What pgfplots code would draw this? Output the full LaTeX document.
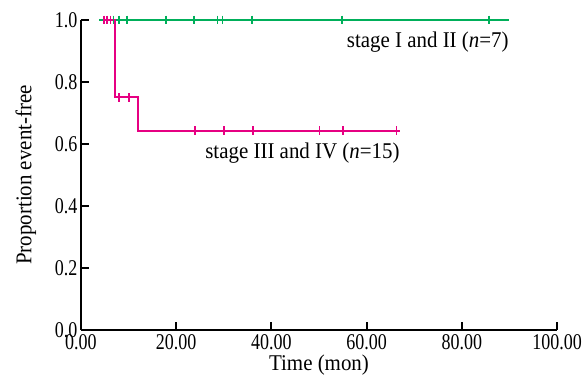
\documentclass[border=0pt]{standalone}
\usepackage{fontspec}
\setmainfont{Liberation Serif}[FakeStretch=0.93]
\newfontfamily\tickfont{Liberation Serif}[FakeStretch=0.8]
\usepackage{pgfplots}
\pgfplotsset{compat=1.18}
\definecolor{kmgreen}{RGB}{0,175,90}
\definecolor{kmmag}{RGB}{230,0,130}
\begin{document}
\fontsize{13.5}{15}\selectfont
\begin{tikzpicture}
\begin{axis}[name=ax, scale only axis, width=285.6pt, height=186pt,
  xmin=0, xmax=100, ymin=0, ymax=1,
  axis lines*=left,
  axis line style={line width=1.1pt, black},
  xtick={0,20,40,60,80,100}, ytick={0,0.2,0.4,0.6,0.8,1.0},
  tick align=inside, major tick length=4.8pt,
  tick style={line width=1.1pt, black},
  /pgf/number format/assume math mode=true,
  tick label style={font=\fontsize{13.5}{15}\tickfont},
  label style={font=\fontsize{13.5}{15}\selectfont},
  xticklabel style={/pgf/number format/fixed, /pgf/number format/fixed zerofill, /pgf/number format/precision=2, inner sep=1pt, yshift=-1.5pt},
  yticklabel style={/pgf/number format/fixed, /pgf/number format/fixed zerofill, /pgf/number format/precision=1, inner sep=2pt},
  xtick pos=bottom, ytick pos=left,
  xlabel={Time (mon)}, ylabel={Proportion event-free},
  xlabel style={inner sep=0pt, yshift=-2pt}, ylabel style={inner sep=0pt, yshift=9pt},
  clip=false,
  every axis plot/.append style={line width=1.2pt},
]
% stage I and II
\addplot[kmgreen, mark=none] coordinates {(3.85,1) (90,1)};
\addplot[kmgreen, only marks, mark=|, mark size=2.6pt, mark options={line width=1pt}] coordinates {
  (6.8,1) (8.0,1) (9.7,1) (17.9,1) (23.8,1) (28.7,1) (29.7,1) (35.9,1) (54.8,1) (85.7,1)};
% stage III and IV
\addplot[kmmag, mark=none] coordinates {(4.7,1) (7.1,1) (7.1,0.75) (12.0,0.75) (12.0,0.643) (67.0,0.643)};
\addplot[kmmag, only marks, mark=|, mark size=2.6pt, mark options={line width=1pt}] coordinates {
  (4.9,1) (5.5,1) (6.2,1) (8.0,0.75) (10.1,0.75)
  (23.9,0.643) (30.1,0.643) (36.1,0.643) (50.1,0.643) (55.1,0.643) (66.3,0.643)};
\node[anchor=east, inner sep=0pt] at (axis cs:89.9,0.93) {stage I and II (\textit{n}=7)};
\node[anchor=east, inner sep=0pt] at (axis cs:67.0,0.571) {stage III and IV (\textit{n}=15)};
\end{axis}
\pgfresetboundingbox
\path ([shift={(-48.6pt,-28.8pt)}]ax.south west) rectangle ([shift={(16.8pt,12pt)}]ax.north east);
\end{tikzpicture}
\end{document}
